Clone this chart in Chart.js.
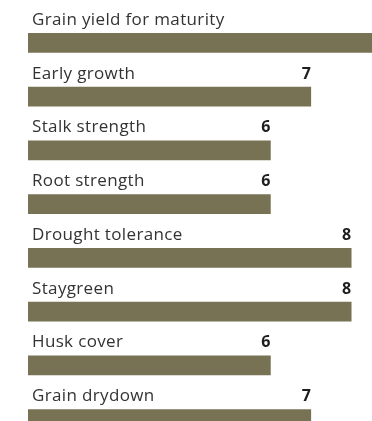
<!DOCTYPE html>
<html>
<head>
<meta charset="utf-8">
<script src="https://cdn.jsdelivr.net/npm/chart.js@4"></script>
<style>
  html, body { margin: 0; padding: 0; background: #fff; overflow: hidden; }
  #wrap { position: relative; width: 440px; height: 446px; }
</style>
</head>
<body>
<div id="wrap"><canvas id="traits"></canvas></div>
<script>
const traits = ['Grain yield for maturity', 'Early growth', 'Stalk strength', 'Root strength',
  'Drought tolerance', 'Staygreen', 'Husk cover', 'Grain drydown']
const scores = [9, 7, 6, 6, 8, 8, 6, 7]
const scoreMax = 10

const barColor = '#777253'

// trait name above each bar, score right-aligned at the bar end
const barLabels = {
  id: 'barLabels',
  afterDatasetsDraw(chart) {
    const ctx = chart.ctx
    const meta = chart.getDatasetMeta(0)
    ctx.save()
    ctx.textBaseline = 'alphabetic'
    meta.data.forEach((bar, i) => {
      const top = bar.y - bar.height / 2
      const baseY = top - 8.5
      ctx.font = '400 17px "Open Sans"'
      ctx.letterSpacing = '0.35px'
      ctx.fillStyle = '#333333'
      ctx.textAlign = 'left'
      ctx.fillText(traits[i], bar.base + 4, baseY)
      ctx.font = '700 16px "Open Sans"'
      ctx.letterSpacing = '0px'
      ctx.fillStyle = '#1e1e1e'
      ctx.textAlign = 'right'
      ctx.fillText(String(scores[i]), bar.x, baseY)
    })
    ctx.restore()
  }
}

new Chart(document.getElementById('traits'), {
  type: 'bar',
  data: {
    labels: traits,
    datasets: [{
      data: scores,
      backgroundColor: barColor,
      borderWidth: 0,
      barThickness: 19
    }]
  },
  options: {
    indexAxis: 'y',
    responsive: true,
    maintainAspectRatio: false,
    animation: false,
    layout: { padding: { left: 28, top: 16, right: 8, bottom: 0 } },
    plugins: {
      legend: { display: false },
      tooltip: { enabled: false }
    },
    scales: {
      x: { display: false, min: 0, max: scoreMax },
      y: { display: false }
    }
  },
  plugins: [barLabels]
})
</script>
</body>
</html>
